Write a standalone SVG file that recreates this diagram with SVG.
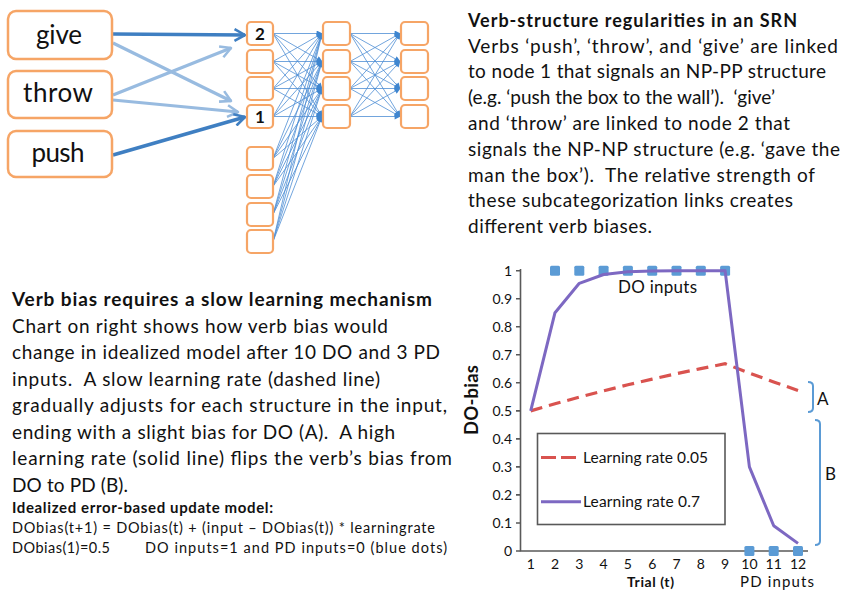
<svg xmlns="http://www.w3.org/2000/svg" width="843" height="591" viewBox="0 0 843 591">
<style>
text{font-family:Lato,"Open Sans","Liberation Sans",sans-serif;fill:#111;white-space:pre}
.verb{fill:#fff;stroke:#f6a566;stroke-width:2.5}
.vt{font-size:26px;text-anchor:middle}
.node{fill:#fff;stroke:#f6a566;stroke-width:2.2}
.nt{font-size:17px;font-weight:700;text-anchor:middle}
.net{stroke:#4f8fd4;stroke-width:1;stroke-opacity:0.8;fill:none}
.thick{stroke:#3f7fc2;stroke-width:3.5;fill:none}
.light{stroke:#98bbe0;stroke-width:3.2;fill:none}
.body{font-size:19px}
.h1{font-size:18px;font-weight:700}
.h2{font-size:19px;font-weight:700}
.small{font-size:14.5px}
.smallb{font-size:15px;font-weight:700}
.tick{font-size:14px;fill:#404040}
.axis{stroke:#595959;stroke-width:1.6;fill:none}
.sq{fill:#5b9bd5}
.brk{stroke:#5b9bd5;stroke-width:2;fill:none}
</style>
<defs>
<marker id="ah" viewBox="0 0 10 10" refX="9" refY="5" markerWidth="7" markerHeight="6" markerUnits="userSpaceOnUse" orient="auto">
<path d="M0,0 L10,5 L0,10 Z" fill="#3f86d0"/>
</marker>
<marker id="ahT" viewBox="0 0 12 12" refX="10" refY="6" markerWidth="14" markerHeight="14" markerUnits="userSpaceOnUse" orient="auto">
<path d="M1,1 L10,6 L1,11" fill="none" stroke="#3f7fc2" stroke-width="2.2" stroke-linejoin="round"/>
</marker>
<marker id="ahL" viewBox="0 0 12 12" refX="10" refY="6" markerWidth="14" markerHeight="14" markerUnits="userSpaceOnUse" orient="auto">
<path d="M1,1 L10,6 L1,11" fill="none" stroke="#98bbe0" stroke-width="2.2" stroke-linejoin="round"/>
</marker>
</defs>

<g id="connectors">
<line class="thick" x1="113" y1="34" x2="245" y2="35" marker-end="url(#ahT)"/>
<line class="light" x1="113" y1="43" x2="231" y2="101" marker-end="url(#ahL)"/>
<line class="light" x1="113" y1="95" x2="231" y2="48" marker-end="url(#ahL)"/>
<line class="light" x1="113" y1="100" x2="238" y2="112" marker-end="url(#ahL)"/>
<line class="thick" x1="113" y1="155" x2="245" y2="117" marker-end="url(#ahT)"/>
<g marker-end="url(#ah)">
<line class="net" x1="273" y1="33.5" x2="322" y2="33.5"/><line class="net" x1="273" y1="33.5" x2="322" y2="61.5"/><line class="net" x1="273" y1="33.5" x2="322" y2="88.5"/><line class="net" x1="273" y1="33.5" x2="322" y2="116.5"/>
<line class="net" x1="273" y1="61.5" x2="322" y2="33.5"/><line class="net" x1="273" y1="61.5" x2="322" y2="61.5"/><line class="net" x1="273" y1="61.5" x2="322" y2="88.5"/><line class="net" x1="273" y1="61.5" x2="322" y2="116.5"/>
<line class="net" x1="273" y1="88.5" x2="322" y2="33.5"/><line class="net" x1="273" y1="88.5" x2="322" y2="61.5"/><line class="net" x1="273" y1="88.5" x2="322" y2="88.5"/><line class="net" x1="273" y1="88.5" x2="322" y2="116.5"/>
<line class="net" x1="273" y1="116.5" x2="322" y2="33.5"/><line class="net" x1="273" y1="116.5" x2="322" y2="61.5"/><line class="net" x1="273" y1="116.5" x2="322" y2="88.5"/><line class="net" x1="273" y1="116.5" x2="322" y2="116.5"/>
<line class="net" x1="273" y1="158.5" x2="322" y2="33.5"/><line class="net" x1="273" y1="158.5" x2="322" y2="61.5"/><line class="net" x1="273" y1="158.5" x2="322" y2="88.5"/><line class="net" x1="273" y1="158.5" x2="322" y2="116.5"/>
<line class="net" x1="273" y1="186.5" x2="322" y2="33.5"/><line class="net" x1="273" y1="186.5" x2="322" y2="61.5"/><line class="net" x1="273" y1="186.5" x2="322" y2="88.5"/><line class="net" x1="273" y1="186.5" x2="322" y2="116.5"/>
<line class="net" x1="273" y1="214.5" x2="322" y2="33.5"/><line class="net" x1="273" y1="214.5" x2="322" y2="61.5"/><line class="net" x1="273" y1="214.5" x2="322" y2="88.5"/><line class="net" x1="273" y1="214.5" x2="322" y2="116.5"/>
<line class="net" x1="273" y1="241.5" x2="322" y2="33.5"/><line class="net" x1="273" y1="241.5" x2="322" y2="61.5"/><line class="net" x1="273" y1="241.5" x2="322" y2="88.5"/><line class="net" x1="273" y1="241.5" x2="322" y2="116.5"/>
<line class="net" x1="350" y1="33.5" x2="400" y2="33.5"/><line class="net" x1="350" y1="33.5" x2="400" y2="61.5"/><line class="net" x1="350" y1="33.5" x2="400" y2="88.5"/><line class="net" x1="350" y1="33.5" x2="400" y2="116.5"/>
<line class="net" x1="350" y1="61.5" x2="400" y2="33.5"/><line class="net" x1="350" y1="61.5" x2="400" y2="61.5"/><line class="net" x1="350" y1="61.5" x2="400" y2="88.5"/><line class="net" x1="350" y1="61.5" x2="400" y2="116.5"/>
<line class="net" x1="350" y1="88.5" x2="400" y2="33.5"/><line class="net" x1="350" y1="88.5" x2="400" y2="61.5"/><line class="net" x1="350" y1="88.5" x2="400" y2="88.5"/><line class="net" x1="350" y1="88.5" x2="400" y2="116.5"/>
<line class="net" x1="350" y1="116.5" x2="400" y2="33.5"/><line class="net" x1="350" y1="116.5" x2="400" y2="61.5"/><line class="net" x1="350" y1="116.5" x2="400" y2="88.5"/><line class="net" x1="350" y1="116.5" x2="400" y2="116.5"/>
</g>
</g>

<g id="verb-give"><rect class="verb" x="8" y="11" width="104" height="48" rx="8"/><text class="vt" x="59" y="44" textLength="46">give</text></g>
<g id="verb-throw"><rect class="verb" x="8" y="71" width="104" height="47" rx="8"/><text class="vt" x="58" y="102" textLength="70">throw</text></g>
<g id="verb-push"><rect class="verb" x="8" y="131" width="104" height="46" rx="8"/><text class="vt" x="58" y="162" textLength="53">push</text></g>

<g id="n1-1"><rect class="node" x="247" y="22" width="26" height="23" rx="4"/><text class="nt" x="260" y="40">2</text></g>
<g id="n1-2"><rect class="node" x="247" y="50" width="26" height="23" rx="4"/></g>
<g id="n1-3"><rect class="node" x="247" y="77" width="26" height="23" rx="4"/></g>
<g id="n1-4"><rect class="node" x="247" y="105" width="26" height="23" rx="4"/><text class="nt" x="260" y="123">1</text></g>
<g id="n1-5"><rect class="node" x="247" y="147" width="26" height="23" rx="4"/></g>
<g id="n1-6"><rect class="node" x="247" y="175" width="26" height="23" rx="4"/></g>
<g id="n1-7"><rect class="node" x="247" y="203" width="26" height="23" rx="4"/></g>
<g id="n1-8"><rect class="node" x="247" y="230" width="26" height="23" rx="4"/></g>
<g id="n2-1"><rect class="node" x="323" y="22" width="27" height="23" rx="4"/></g>
<g id="n2-2"><rect class="node" x="323" y="50" width="27" height="23" rx="4"/></g>
<g id="n2-3"><rect class="node" x="323" y="77" width="27" height="23" rx="4"/></g>
<g id="n2-4"><rect class="node" x="323" y="105" width="27" height="23" rx="4"/></g>
<g id="n3-1"><rect class="node" x="401" y="22" width="27" height="23" rx="4"/></g>
<g id="n3-2"><rect class="node" x="401" y="50" width="27" height="23" rx="4"/></g>
<g id="n3-3"><rect class="node" x="401" y="77" width="27" height="23" rx="4"/></g>
<g id="n3-4"><rect class="node" x="401" y="105" width="27" height="23" rx="4"/></g>

<g id="text-srn">
<text class="h1" x="468" y="26.7" textLength="329">Verb-structure regularities in an SRN</text>
<text class="body" x="468" y="52.5" textLength="370">Verbs ‘push’, ‘throw’, and ‘give’ are linked</text>
<text class="body" x="468" y="78.3" textLength="358">to node 1 that signals an NP-PP structure</text>
<text class="body" x="468" y="104.1" textLength="307">(e.g. ‘push the box to the wall’).  ‘give’</text>
<text class="body" x="468" y="129.9" textLength="322">and ‘throw’ are linked to node 2 that</text>
<text class="body" x="468" y="155.7" textLength="372">signals the NP-NP structure (e.g. ‘gave the</text>
<text class="body" x="468" y="181.5" textLength="347">man the box’).  The relative strength of</text>
<text class="body" x="468" y="207.3" textLength="325">these subcategorization links creates</text>
<text class="body" x="468" y="233.1" textLength="184">different verb biases.</text>
</g>

<g id="text-bias">
<text class="h2" x="12" y="306" textLength="420">Verb bias requires a slow learning mechanism</text>
<text class="body" x="12" y="332.5" textLength="376">Chart on right shows how verb bias would</text>
<text class="body" x="12" y="359" textLength="428">change in idealized model after 10 DO and 3 PD</text>
<text class="body" x="12" y="385.5" textLength="368">inputs.  A slow learning rate (dashed line)</text>
<text class="body" x="12" y="412" textLength="435">gradually adjusts for each structure in the input,</text>
<text class="body" x="12" y="438.5" textLength="383">ending with a slight bias for DO (A).  A high</text>
<text class="body" x="12" y="465" textLength="440">learning rate (solid line) flips the verb’s bias from</text>
<text class="body" x="12" y="491.5" textLength="116">DO to PD (B).</text>
<text class="smallb" x="12" y="513" textLength="261">Idealized error-based update model:</text>
<text class="small" x="12" y="533" textLength="423">DObias(t+1) = DObias(t) + (input – DObias(t)) * learningrate</text>
<text class="small" x="12" y="552.7" textLength="98">DObias(1)=0.5</text>
<text class="small" x="145" y="552.7" textLength="302">DO inputs=1 and PD inputs=0 (blue dots)</text>
</g>

<g id="chart">
<path class="axis" d="M520.5,269 V551 H808"/>
<path class="axis" d="M516,270.7 H520.5 M516,298.7 H520.5 M516,326.8 H520.5 M516,354.8 H520.5 M516,382.8 H520.5 M516,410.9 H520.5 M516,438.9 H520.5 M516,466.9 H520.5 M516,494.9 H520.5 M516,523 H520.5 M516,551 H520.5"/>
<g class="tick" text-anchor="end">
<text x="512" y="275.5">1</text><text x="512" y="303.5">0.9</text><text x="512" y="331.6">0.8</text><text x="512" y="359.6">0.7</text><text x="512" y="387.6">0.6</text><text x="512" y="415.7">0.5</text><text x="512" y="443.7">0.4</text><text x="512" y="471.7">0.3</text><text x="512" y="499.7">0.2</text><text x="512" y="527.8">0.1</text><text x="512" y="555.8">0</text>
</g>
<g class="tick" text-anchor="middle">
<text x="530.7" y="569">1</text><text x="555" y="569">2</text><text x="579.3" y="569">3</text><text x="603.6" y="569">4</text><text x="627.9" y="569">5</text><text x="652.2" y="569">6</text><text x="676.5" y="569">7</text><text x="700.8" y="569">8</text><text x="725.1" y="569">9</text><text x="749.4" y="569">10</text><text x="773.7" y="569">11</text><text x="798" y="569">12</text>
</g>
<text x="650.5" y="587" font-size="14" font-weight="700" text-anchor="middle" textLength="47">Trial (t)</text>
<text transform="translate(478,400) rotate(-90)" font-size="18.5" font-weight="700" text-anchor="middle" textLength="70">DO-bias</text>
<text x="618" y="293.3" font-size="17" textLength="79">DO inputs</text>
<text x="740" y="587.3" font-size="15" textLength="74">PD inputs</text>

<polyline fill="none" stroke="#d9534f" stroke-width="3.2" stroke-dasharray="12 7" points="530.7,410.9 555,403.8 579.3,397.2 603.6,390.9 627.9,384.8 652.2,379.1 676.5,373.7 700.8,368.6 725.1,363.7 749.4,373 773.7,381.9 798,390.4"/>
<g>
<rect class="sq" x="550" y="265.7" width="10" height="10" rx="1.5"/><rect class="sq" x="574.3" y="265.7" width="10" height="10" rx="1.5"/><rect class="sq" x="598.6" y="265.7" width="10" height="10" rx="1.5"/><rect class="sq" x="622.9" y="265.7" width="10" height="10" rx="1.5"/><rect class="sq" x="647.2" y="265.7" width="10" height="10" rx="1.5"/><rect class="sq" x="671.5" y="265.7" width="10" height="10" rx="1.5"/><rect class="sq" x="695.8" y="265.7" width="10" height="10" rx="1.5"/><rect class="sq" x="720.1" y="265.7" width="10" height="10" rx="1.5"/>
<rect class="sq" x="744.4" y="546" width="10" height="10" rx="1.5"/><rect class="sq" x="768.7" y="546" width="10" height="10" rx="1.5"/><rect class="sq" x="793" y="546" width="10" height="10" rx="1.5"/>
</g>
<polyline fill="none" stroke="#7d68c2" stroke-width="3" stroke-linejoin="round" points="530.7,410.9 555,312.7 579.3,283.3 603.6,274.5 627.9,271.8 652.2,271 676.5,270.8 700.8,270.7 725.1,270.7 749.4,466.9 773.7,525.8 798,543.4"/>

<g id="legend">
<rect x="537.5" y="433.5" width="187.5" height="91" fill="#fff" stroke="#595959" stroke-width="1.6"/>
<line x1="541" y1="457.5" x2="581" y2="457.5" stroke="#d9534f" stroke-width="3.2" stroke-dasharray="15 5"/>
<text x="583" y="462.5" font-size="15.5" textLength="125">Learning rate 0.05</text>
<line x1="541" y1="501.7" x2="581" y2="501.7" stroke="#7d68c2" stroke-width="3"/>
<text x="583" y="507" font-size="15.5" textLength="117">Learning rate 0.7</text>
</g>

<path class="brk" d="M808,382 Q813,382 813,386 L813,408 Q813,412 808,412"/>
<text x="817" y="405" font-size="17">A</text>
<path class="brk" d="M815,420 Q820,420 820,424 L820,541 Q820,545 815,545"/>
<text x="825" y="480" font-size="17">B</text>
</g>
</svg>
